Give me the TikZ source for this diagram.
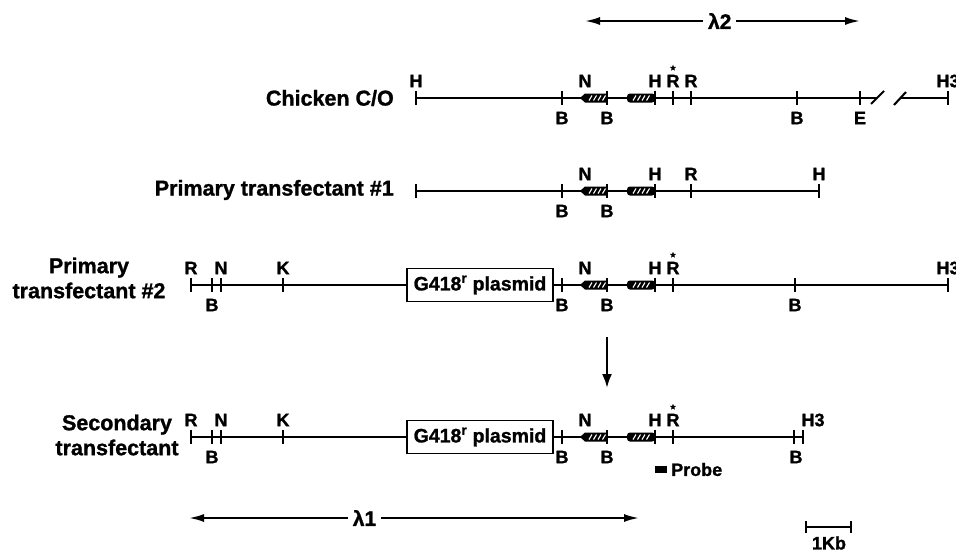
\documentclass[tikz,border=0pt]{standalone}
\usepackage{fontspec}
\setmainfont{Liberation Sans}[BoldFeatures={FakeBold=1.2}]
\usetikzlibrary{arrows.meta,shapes.geometric}

\newcommand\mapfont{\bfseries\fontsize{18}{18}\selectfont}
\newcommand\rowfont{\bfseries\fontsize{21.5}{25}\selectfont}
\newcommand\boxfont{\bfseries\fontsize{19.5}{19.5}\selectfont}

% restriction site tick at (x,y)
\newcommand\cutsite[2]{\draw[cut] (#1,#2-7) -- (#1,#2+7);}
% the two hatched exon blocks on a map line at height #1
\newcommand\hatchpair[1]{%
  \fill (580,#1) -- (585,#1-4.5) -- (607,#1-4.5) -- (607,#1+4.5) -- (585,#1+4.5) -- cycle;
  \fill[rounded corners=3pt] (627,#1-4.5) rectangle (655,#1+4.5);
  \foreach \k in {0,...,3}{\draw[white,line width=1.1pt] (589+4.5*\k,#1+2.5) -- (592+4.5*\k,#1-2.5);}
  \foreach \k in {0,...,3}{\draw[white,line width=1.1pt] (633+4.5*\k,#1+2.5) -- (636+4.5*\k,#1-2.5);}
}

\begin{document}
\begin{tikzpicture}[x=1pt,y=-1pt,
  dna/.style={line width=2.9pt},
  cut/.style={line width=2.1pt},
  mk/.style={font=\mapfont, inner sep=0pt},
  rowlab/.style={font=\rowfont, inner sep=0pt, align=center},
  starmark/.style={star, star points=5, star point ratio=2.2, fill=black, inner sep=0pt, minimum size=6.5pt},
  plasmid/.style={draw, line width=1.6pt, minimum width=146pt, minimum height=33pt, inner sep=0pt, font=\boxfont},
  span/.style={line width=2pt, {Latex[length=15pt,width=8pt]}-{Latex[length=15pt,width=8pt]}},
  spanlab/.style={fill=white, inner xsep=5pt, inner ysep=1pt, font=\bfseries\fontsize{21}{21}\selectfont},
  ]
\useasboundingbox (0,0) rectangle (956,552);

% lambda clone spans
\draw[span] (585,21) -- (860,21) node[spanlab, pos=0.49] (lam2) {λ2};
\draw[span] (189,518) -- (639,518) node[spanlab, pos=0.39] (lam1) {λ1};

% ---------------- Chicken C/O ----------------
\node[rowlab, anchor=east] (row1) at (394,98) {Chicken C/O};
\draw[dna] (416,98) -- (877,98);
\draw[dna] (901,98) -- (948,98);
\draw[cut] (871,104) -- (884,91);
\draw[cut] (894,105) -- (906,92);
\foreach \x in {416,562,607,655,673,691,797,860,948}{\cutsite{\x}{98}}
\hatchpair{98}
\foreach \x/\t in {416/H,585/N,655/H,673/R,691/R,948/H3}{\node[mk] (a1-\x) at (\x,81) {\t};}
\foreach \x/\t in {562/B,607/B,797/B,860/E}{\node[mk] (b1-\x) at (\x,118) {\t};}
\node[starmark] (s1) at (673,68) {};

% ---------------- Primary transfectant #1 ----------------
\node[rowlab, anchor=east] (row2) at (394,190) {Primary transfectant \#1};
\draw[dna] (416,191) -- (819,191);
\foreach \x in {416,562,607,655,691,819}{\cutsite{\x}{191}}
\hatchpair{191}
\foreach \x/\t in {585/N,655/H,691/R,819/H}{\node[mk] (a2-\x) at (\x,174) {\t};}
\foreach \x/\t in {562/B,607/B}{\node[mk] (b2-\x) at (\x,211) {\t};}

% ---------------- Primary transfectant #2 ----------------
\node[rowlab] (row3) at (89,278) {Primary\\transfectant \#2};
\node[plasmid] (g3) at (480,285) {G418\textsuperscript{r} plasmid};
\draw[dna] (191,285) -- (g3.west);
\draw[dna] (g3.east) -- (948,285);
\foreach \x in {191,212,221,283,562,607,655,673,795,948}{\cutsite{\x}{285}}
\hatchpair{285}
\foreach \x/\t in {191/R,221/N,283/K,585/N,655/H,673/R,948/H3}{\node[mk] (a3-\x) at (\x,268) {\t};}
\foreach \x/\t in {212/B,562/B,607/B,795/B}{\node[mk] (b3-\x) at (\x,305) {\t};}
\node[starmark] (s3) at (673,255) {};

% derivation arrow
\coordinate (dtop) at (607,337);
\coordinate (dbot) at (607,388);
\draw[line width=2.4pt, -{Latex[length=14pt,width=10pt]}] (dtop) -- (dbot);

% ---------------- Secondary transfectant ----------------
\node[rowlab] (row4) at (117,435) {Secondary\\transfectant};
\node[plasmid] (g4) at (480,437) {G418\textsuperscript{r} plasmid};
\draw[dna] (191,437) -- (g4.west);
\draw[dna] (g4.east) -- (803,437);
\foreach \x in {191,212,221,283,562,607,655,673,794,803}{\cutsite{\x}{437}}
\hatchpair{437}
\foreach \x/\t in {191/R,221/N,283/K,585/N,655/H,673/R,813/H3}{\node[mk] (a4-\x) at (\x,420) {\t};}
\foreach \x/\t in {212/B,562/B,607/B,796/B}{\node[mk] (b4-\x) at (\x,457) {\t};}
\node[starmark] (s4) at (673,407) {};

% probe legend
\fill (655,466) rectangle (667,473);
\node[mk, anchor=west] (probe) at (671,469.5) {Probe};

% scale bar
\coordinate (kb1) at (806,527);
\coordinate (kb2) at (851,527);
\draw[line width=2pt] (kb1) -- (kb2);
\draw[line width=2pt] (806,521) -- (806,533) (851,521) -- (851,533);
\node[mk] (kb) at (829,543) {1Kb};
\end{tikzpicture}
\end{document}
